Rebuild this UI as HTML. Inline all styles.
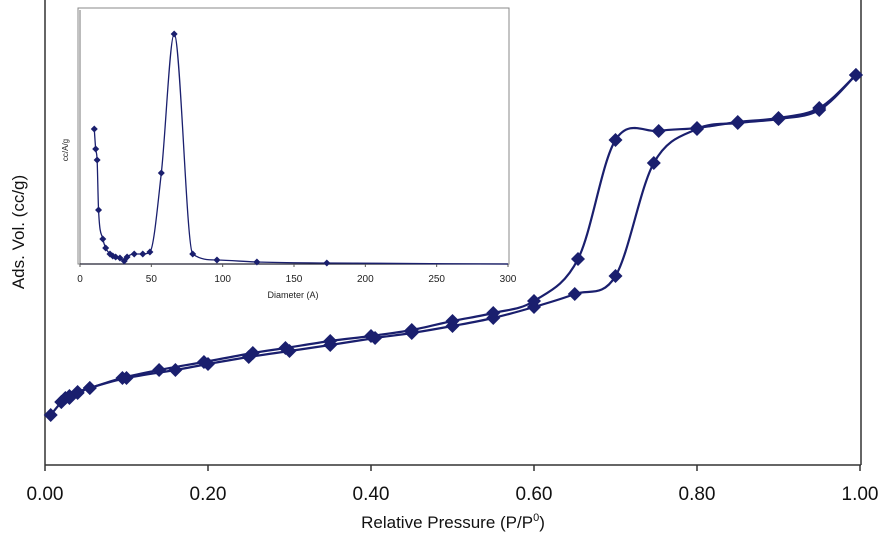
<!DOCTYPE html>
<html><head><meta charset="utf-8"><style>
body{margin:0;background:#fff}
svg{display:block;font-family:"Liberation Sans",Arial,sans-serif}
</style></head><body>
<svg id="c" width="885" height="535"></svg>
<script>
const xTicks=["0.00","0.20","0.40","0.60","0.80","1.00"];
const adsP=[0.007,0.02,0.025,0.03,0.04,0.055,0.1,0.16,0.2,0.25,0.3,0.35,0.405,0.45,0.5,0.55,0.6,0.65,0.7,0.747,0.8,0.85,0.9,0.95,0.995];
const adsV=[50,63,67,69,72,77,87,95,101,108,114,120,127,132,139,147,158,171,189,302,336,342,346,355,390];
const desP=[0.995,0.95,0.9,0.85,0.8,0.753,0.70,0.654,0.6,0.55,0.5,0.45,0.4,0.35,0.295,0.255,0.195,0.14,0.095,0.055,0.04,0.03,0.02];
const desV=[390,357,347,343,337,334,325,206,164,152,144,135,129,124,117,112,103,95,87,77,73,67,63];
const insetTicks=["0","50","100","150","200","250","300"];
const poreD=[10,11,12,13,16,18,21,23,25,28,31,33,38,44,49,57,66,79,96,124,173];
const poreV=[135,115,104,54,25,16,10,8,7,6,3,7,10,10,12,91,230,10,4,2,1];

const NS="http://www.w3.org/2000/svg",svg=document.getElementById('c');
function mk(t,a,p){const e=document.createElementNS(NS,t);for(const k in a)e.setAttribute(k,a[k]);(p||svg).appendChild(e);return e;}
const X0=45,X1=860,Y0=465;
const sx=p=>X0+p*(X1-X0), sy=v=>Y0-v;
const ix=d=>80+d*(508-80)/300, iy=v=>264-v;
function smooth(pts){let d="M"+pts[0][0]+","+pts[0][1];for(let i=0;i<pts.length-1;i++){const p0=pts[Math.max(0,i-1)],p1=pts[i],p2=pts[i+1],p3=pts[Math.min(pts.length-1,i+2)];const t=0.17;d+=" C"+(p1[0]+(p2[0]-p0[0])*t)+","+(p1[1]+(p2[1]-p0[1])*t)+" "+(p2[0]-(p3[0]-p1[0])*t)+","+(p2[1]-(p3[1]-p1[1])*t)+" "+p2[0]+","+p2[1];}return d;}
function monotone(pts){const n=pts.length,dx=[],s=[],m=[];
 for(let i=0;i<n-1;i++){dx[i]=pts[i+1][0]-pts[i][0];s[i]=(pts[i+1][1]-pts[i][1])/dx[i];}
 m[0]=s[0];m[n-1]=s[n-2];
 for(let i=1;i<n-1;i++){m[i]=(s[i-1]*s[i]<=0)?0:(s[i-1]+s[i])/2;}
 for(let i=0;i<n-1;i++){if(s[i]===0){m[i]=0;m[i+1]=0;continue;}const a=m[i]/s[i],b=m[i+1]/s[i],h=a*a+b*b;if(h>9){const t=3/Math.sqrt(h);m[i]=t*a*s[i];m[i+1]=t*b*s[i];}}
 let d="M"+pts[0][0]+","+pts[0][1];
 for(let i=0;i<n-1;i++){const h=dx[i]/3;d+=" C"+(pts[i][0]+h)+","+(pts[i][1]+m[i]*h)+" "+(pts[i+1][0]-h)+","+(pts[i+1][1]-m[i+1]*h)+" "+pts[i+1][0]+","+pts[i+1][1];}
 return d;}
const col="#1a1f6e";
let e=mk('line',{x1:X0,y1:0,x2:X0,y2:Y0,stroke:"#333","stroke-width":1.5});

e=mk('line',{x1:X0,y1:Y0,x2:X1+1,y2:Y0,stroke:"#333","stroke-width":1.5});

e=mk('line',{x1:X1+1,y1:0,x2:X1+1,y2:Y0,stroke:"#333","stroke-width":1.5});

xTicks.forEach((t,i)=>{const x=sx(i*0.2);
 const l=mk('line',{x1:x,y1:Y0,x2:x,y2:Y0+6,stroke:"#333","stroke-width":1.5});
 
 const tx=mk('text',{x:x,y:500,"text-anchor":"middle","font-size":19,fill:"#111"});tx.textContent=t;
 });
e=mk('text',{x:453,y:528,"text-anchor":"middle","font-size":17,fill:"#111"});
e.innerHTML='Relative Pressure (P/P<tspan dy="-7" font-size="11">0</tspan><tspan dy="7">)</tspan>';

e=mk('text',{x:0,y:0,transform:"translate(24,232) rotate(-90)","text-anchor":"middle","font-size":17,fill:"#111"});e.textContent="Ads. Vol. (cc/g)";

function series(P,V,name){const pts=P.map((p,i)=>[sx(p),sy(V[i])]);
 const pa=mk('path',{d:smooth(pts),fill:"none",stroke:col,"stroke-width":2.2});
 
 pts.forEach(q=>{const m=mk('polygon',{points:`${q[0]},${q[1]-7} ${q[0]+7},${q[1]} ${q[0]},${q[1]+7} ${q[0]-7},${q[1]}`,fill:col});
 });}
series(adsP,adsV,'adsorption');series(desP,desV,'desorption');
const g=mk('g',{});
e=mk('rect',{x:78,y:8,width:431,height:256,fill:"#fff",stroke:"#888","stroke-width":1},g);

e=mk('line',{x1:80,y1:10,x2:80,y2:264,stroke:"#777",'stroke-width':1},g);

e=mk('line',{x1:80,y1:264,x2:508,y2:264,stroke:"#223",'stroke-width':1.2},g);

insetTicks.forEach((t,i)=>{const x=ix(i*50);
 const l=mk('line',{x1:x,y1:264,x2:x,y2:267,stroke:"#555"},g);
 const tx=mk('text',{x:x,y:282,"text-anchor":"middle","font-size":10,fill:"#222"},g);tx.textContent=t;
 });
e=mk('text',{x:293,y:298,"text-anchor":"middle","font-size":9,fill:"#222"},g);e.textContent="Diameter (A)";

e=mk('text',{x:0,y:0,transform:"translate(68,150) rotate(-90)","text-anchor":"middle","font-size":8,fill:"#222"},g);e.textContent="cc/A/g";

const ip=poreD.map((d,i)=>[ix(d),iy(poreV[i])]);ip.push([ix(300),iy(0)]);
e=mk('path',{d:monotone(ip),fill:"none",stroke:col,"stroke-width":1.3},g);

ip.slice(0,-1).forEach(q=>{const m=mk('polygon',{points:`${q[0]},${q[1]-3.5} ${q[0]+3.5},${q[1]} ${q[0]},${q[1]+3.5} ${q[0]-3.5},${q[1]}`,fill:col},g);
 });
</script>
</body></html>
